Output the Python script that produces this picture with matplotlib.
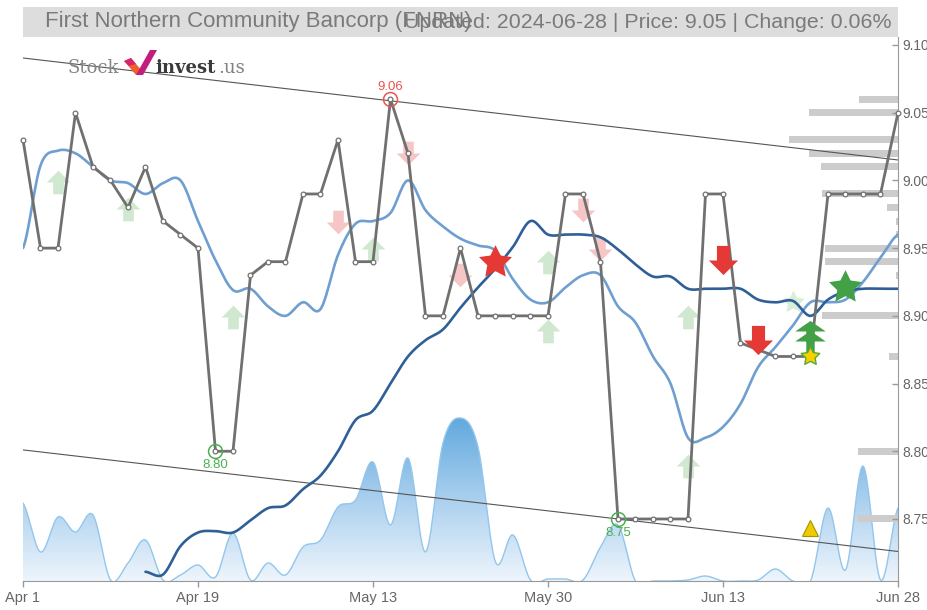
import numpy as np
import matplotlib
matplotlib.use("Agg")
import matplotlib.pyplot as plt
from matplotlib.path import Path
from matplotlib.patches import Polygon, Rectangle
from matplotlib.colors import LinearSegmentedColormap

# ---------------- data ----------------
tick_labels = ["Apr 1", "Apr 19", "May 13", "May 30", "Jun 13", "Jun 28"]
tick_index = [0, 10, 20, 30, 40, 50]

price = [9.03, 8.95, 8.95, 9.05, 9.01, 9.00, 8.98, 9.01, 8.97, 8.96,
         8.95, 8.80, 8.80, 8.93, 8.94, 8.94, 8.99, 8.99, 9.03, 8.94,
         8.94, 9.06, 9.02, 8.90, 8.90, 8.95, 8.90, 8.90, 8.90, 8.90,
         8.90, 8.99, 8.99, 8.94, 8.75, 8.75, 8.75, 8.75, 8.75, 8.99,
         8.99, 8.88, 8.875, 8.87, 8.87, 8.87, 8.99, 8.99, 8.99, 8.99,
         9.05]

ma_fast = [8.950, 9.011, 9.022, 9.020, 9.010, 9.000, 8.998, 8.990, 8.998, 9.000,
           8.970, 8.941, 8.919, 8.920, 8.907, 8.900, 8.910, 8.905, 8.945, 8.968,
           8.970, 8.976, 9.000, 8.978, 8.966, 8.957, 8.952, 8.948, 8.927, 8.912,
           8.910, 8.921, 8.930, 8.930, 8.907, 8.895, 8.870, 8.850, 8.810, 8.810,
           8.818, 8.835, 8.862, 8.877, 8.893, 8.910, 8.910, 8.912, 8.925, 8.943,
           8.960]

ma_slow = [np.nan] * 7 + [
           8.711, 8.709, 8.730,
           8.740, 8.741, 8.740, 8.749, 8.758, 8.760, 8.772, 8.782, 8.800, 8.823,
           8.830, 8.850, 8.870, 8.882, 8.890, 8.906, 8.921, 8.935, 8.951, 8.970,
           8.960, 8.960, 8.960, 8.958, 8.949, 8.938, 8.929, 8.929, 8.920, 8.920,
           8.920, 8.920, 8.912, 8.910, 8.911, 8.900, 8.912, 8.918, 8.920, 8.920,
           8.920]

volume = [7800, 2900, 6400, 4900, 6600, 100, 1800, 4100, 100, 600,
          1600, 400, 4800, 100, 1800, 600, 3400, 4100, 7400, 8100,
          11900, 5600, 12300, 2900, 13800, 16300, 13400, 1900, 4600, 100,
          200, 200, 100, 3400, 5600, 0, 0, 0, 100, 500,
          0, 0, 100, 1200, 0, 0, 7300, 1100, 11500, 100,
          7300]

profile_levels = [9.06, 9.05, 9.03, 9.02, 9.01, 8.99, 8.98, 8.97, 8.96,
                  8.95, 8.94, 8.93, 8.90, 8.87, 8.80, 8.75]
profile_volume = [39, 89, 109, 89, 77, 76, 11, 2, 2, 73, 73, 2, 76, 9, 40, 41]

upper_channel = [9.0904, 9.0151]
lower_channel = [8.8010, 8.7260]
channel_index = [0, 50]

light_up_idx = [2, 6, 12, 20, 30, 30, 38, 38]
light_up_val = [8.999, 8.979, 8.899, 8.949, 8.940, 8.889, 8.899, 8.789]
light_down_idx = [18, 22, 25, 32, 33]
light_down_val = [8.969, 9.020, 8.930, 8.978, 8.949]
sell_idx = [40, 42]
sell_val = [8.941, 8.882]
red_star = (27, 8.940)
green_star = (47, 8.921)
faint_star = (44, 8.910)
buy_stack_idx = [45, 45]
buy_stack_val = [8.889, 8.8815]
yellow_star = (45, 8.870)
yellow_tri = (45, 8.7436)

high_point = (21, 9.06)
low_points = [(11, 8.80), (34, 8.75)]

title_left = "First Northern Community Bancorp (FNRN)"
title_right = "Updated: 2024-06-28 | Price: 9.05 | Change: 0.06%"
yticks = [8.75, 8.80, 8.85, 8.90, 8.95, 9.00, 9.05, 9.10]

# ---------------- helpers ----------------
def catmull(x, y, n=16):
    x = np.asarray(x, float); y = np.asarray(y, float)
    xs, ys = [], []
    m = len(x)
    for i in range(m - 1):
        p0 = y[i - 1] if i > 0 else y[i]
        p1 = y[i]; p2 = y[i + 1]
        p3 = y[i + 2] if i + 2 < m else y[i + 1]
        t = np.linspace(0, 1, n, endpoint=False)
        yy = 0.5 * (2 * p1 + (-p0 + p2) * t + (2 * p0 - 5 * p1 + 4 * p2 - p3) * t ** 2
                    + (-p0 + 3 * p1 - 3 * p2 + p3) * t ** 3)
        xx = x[i] + (x[i + 1] - x[i]) * t
        xs.append(xx); ys.append(yy)
    xs.append([x[-1]]); ys.append([y[-1]])
    return np.concatenate(xs), np.concatenate(ys)

def arrow_path(down=False, head=1.0, stem=0.45):
    s = -1 if down else 1
    v = [(-stem, -1 * s), (stem, -1 * s), (stem, 0), (head, 0), (0, 1 * s),
         (-head, 0), (-stem, 0), (-stem, -1 * s)]
    c = [Path.MOVETO] + [Path.LINETO] * 6 + [Path.CLOSEPOLY]
    return Path(v, c)

def star_path(inner=0.5):
    v = []
    for k in range(10):
        r = 1.0 if k % 2 == 0 else inner
        a = np.pi / 2 + k * np.pi / 5
        v.append((r * np.cos(a), r * np.sin(a)))
    v.append(v[0])
    c = [Path.MOVETO] + [Path.LINETO] * 9 + [Path.CLOSEPOLY]
    return Path(v, c)

UP = arrow_path()
DOWN = arrow_path(down=True)
TREE = arrow_path(head=1.45, stem=0.4)
STAR = star_path(0.5)

# ---------------- figure ----------------
W, H = 928, 610
fig = plt.figure(figsize=(W / 100, H / 100), dpi=100)
fig.patch.set_facecolor("white")
L, R, T, B = 23, 898, 37, 581
rect = [L / W, (H - B) / H, (R - L) / W, (B - T) / H]

axv = fig.add_axes(rect, zorder=0)
ax = fig.add_axes(rect, zorder=1)
ax.set_facecolor("none")

n = len(price)
idx = np.arange(n)

# volume area with gradient
vx, vy = catmull(idx, volume, 16)
vtop = 54400
axv.set_xlim(0, n - 1); axv.set_ylim(0, vtop)
axv.axis("off")
cmap = LinearSegmentedColormap.from_list("vg", ["#eef5fc", "#a9cfee", "#5ea7de"])
grad = np.linspace(0, 1, 256).reshape(-1, 1)
vmax = max(volume) * 1.02
im = axv.imshow(grad, extent=[0, n - 1, 0, vmax], origin="lower", aspect="auto",
                cmap=cmap, zorder=1)
verts = np.column_stack([np.r_[vx, vx[::-1]], np.r_[vy, np.zeros_like(vy)]])
clip = Polygon(verts, closed=True, transform=axv.transData, facecolor="none",
               edgecolor="none")
axv.add_patch(clip)
im.set_clip_path(clip)
axv.plot(vx, vy, color="#93c6ec", lw=1.0, zorder=2)
axv.set_xlim(0, n - 1); axv.set_ylim(0, vtop)

# main axes
ax.set_xlim(0, n - 1)
ax.set_ylim(8.7042, 9.1059)

# volume profile
pw = np.array(profile_volume) / 17.5
ax.barh(profile_levels, pw, left=(n - 1) - pw, height=0.0052, color="#cccccc",
        zorder=1, linewidth=0)

# channel lines
ax.plot(channel_index, upper_channel, color="#555555", lw=0.8, zorder=2)
ax.plot(channel_index, lower_channel, color="#555555", lw=0.8, zorder=2)

# faint signals
ax.plot(light_up_idx, light_up_val, linestyle="none", marker=UP, ms=17,
        color="#cfe8cf", mec="none", zorder=3)
ax.plot(light_down_idx, light_down_val, linestyle="none", marker=DOWN, ms=17,
        color="#f6c6c6", mec="none", zorder=3)
ax.plot([faint_star[0]], [faint_star[1]], linestyle="none", marker=STAR, ms=17,
        color="#d8eed8", mec="none", zorder=3)

# moving averages
fx, fy = catmull(idx, ma_fast, 16)
ax.plot(fx, fy, color="#6f9fd0", lw=1.9, zorder=4, solid_capstyle="round")
ms_arr = np.array(ma_slow, float)
ok = ~np.isnan(ms_arr)
sx, sy = catmull(idx[ok], ms_arr[ok], 16)
ax.plot(sx, sy, color="#2f5f96", lw=1.9, zorder=4, solid_capstyle="round")

# price
ax.plot(idx, price, color="#707070", lw=2.0, zorder=5, clip_on=False,
        marker="o", ms=3.4, mfc="white", mec="#707070", mew=0.9)

# strong signals
ax.plot(sell_idx, sell_val, linestyle="none", marker=DOWN, ms=21,
        color="#e53935", mec="none", zorder=6)
ax.plot(buy_stack_idx, buy_stack_val, linestyle="none", marker=TREE, ms=22,
        color="#43a047", mec="none", zorder=6)
ax.plot([red_star[0]], [red_star[1]], linestyle="none", marker=STAR, ms=25,
        color="#e53935", mec="none", zorder=6)
ax.plot([green_star[0]], [green_star[1]], linestyle="none", marker=STAR, ms=25,
        color="#43a047", mec="none", zorder=6)
ax.plot([yellow_star[0]], [yellow_star[1]], linestyle="none", marker=STAR, ms=14,
        color="#f7d000", mec="#5aa838", mew=1.0, zorder=7)
ax.plot([yellow_tri[0]], [yellow_tri[1]], linestyle="none", marker="^", ms=11,
        color="#f2c800", mec="#9a9a00", mew=0.8, zorder=7)

# high / low annotations
ax.plot([high_point[0]], [high_point[1]], linestyle="none", marker="o", ms=10,
        mfc="none", mec="#e8554e", mew=1.1, zorder=7, clip_on=False)
ax.annotate(f"{high_point[1]:.2f}", high_point, xytext=(0, 8.5), textcoords="offset points",
            ha="center", va="center", color="#e8554e", fontsize=9.5,
            family="Liberation Sans", zorder=8)
for (li, lv) in low_points:
    ax.plot([li], [lv], linestyle="none", marker="o", ms=10, mfc="none",
            mec="#4caf50", mew=1.1, zorder=7)
    ax.annotate(f"{lv:.2f}", (li, lv), xytext=(0, -10), textcoords="offset points",
                ha="center", va="center", color="#4caf50", fontsize=9.5,
                family="Liberation Sans", zorder=8)

# axes styling
for s in ["top", "left"]:
    ax.spines[s].set_visible(False)
ax.spines["right"].set_color("#999999")
ax.spines["bottom"].set_color("#999999")
ax.yaxis.tick_right()
ax.set_yticks(yticks)
ax.set_yticklabels([f"{v:.2f}" for v in yticks])
ax.tick_params(axis="y", direction="in", length=4, width=1, color="#999999",
               labelcolor="#666666", labelsize=10, pad=3)
ax.set_xticks(tick_index)
ax.set_xticklabels(tick_labels)
ax.tick_params(axis="x", direction="out", length=4.5, width=1, color="#999999",
               labelcolor="#666666", labelsize=10.5, pad=3)
for lab in ax.get_xticklabels() + ax.get_yticklabels():
    lab.set_family("Liberation Sans")

# title bar
fig.patches.append(Rectangle((L / W, (H - 37) / H), (R - L) / W, 30 / H,
                             transform=fig.transFigure, facecolor="#dddddd",
                             edgecolor="none", zorder=0))
fig.text(45 / W, 1 - 22 / H, title_left, ha="left", va="center", color="#7a7a7a",
         fontsize=16, family="Liberation Sans")
fig.text(892 / W, 1 - 22 / H, title_right, ha="right", va="center", color="#7a7a7a",
         fontsize=15.4, family="Liberation Sans")

# logo
base = 1 - 73 / H
fig.text(68 / W, base, "Stock", ha="left", va="baseline", color="#858585",
         fontsize=13, family="DejaVu Serif")
fig.text(155 / W, base, "invest", ha="left", va="baseline", color="#3a3a3a",
         fontsize=13, family="DejaVu Serif", weight="bold")
fig.text(218 / W, base, ".us", ha="left", va="baseline", color="#808080",
         fontsize=13, family="DejaVu Serif")

def px(pts):
    return [(x / W, 1 - y / H) for x, y in pts]

fig.patches.append(Polygon(px([(124, 61), (131, 58), (142, 71), (136, 75)]),
                           closed=True, transform=fig.transFigure,
                           facecolor="#f0602a", edgecolor="none"))
fig.patches.append(Polygon(px([(124, 61), (131, 58), (136, 64), (129, 66)]),
                           closed=True, transform=fig.transFigure,
                           facecolor="#d8246f", edgecolor="none"))
fig.patches.append(Polygon(px([(136, 75), (150, 50), (157, 50), (143, 75)]),
                           closed=True, transform=fig.transFigure,
                           facecolor="#c41c7c", edgecolor="none"))

fig.savefig("out.png", dpi=100, facecolor="white")
